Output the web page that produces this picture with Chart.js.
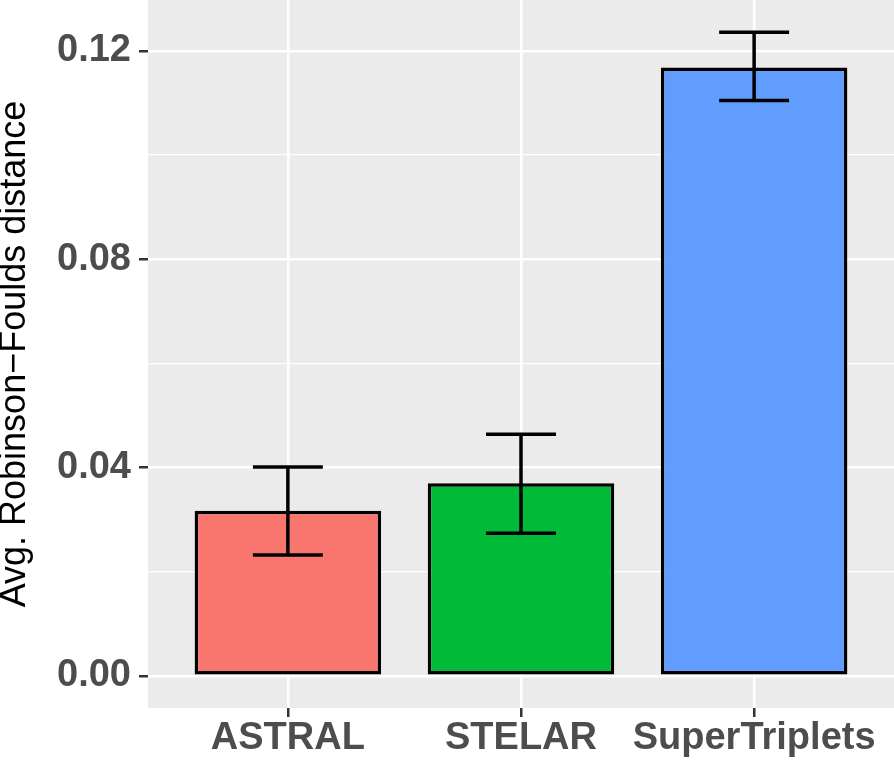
<!DOCTYPE html>
<html>
<head>
<meta charset="utf-8">
<script src="https://cdn.jsdelivr.net/npm/chart.js@4/dist/chart.umd.min.js"></script>
<style>
  html, body { margin: 0; padding: 0; background: #ffffff; }
  #wrap { width: 894px; height: 761px; position: relative; }
</style>
</head>
<body>
<div id="wrap"><canvas id="c"></canvas></div>
<script>
// ---- data ----
const categories = ["ASTRAL", "STELAR", "SuperTriplets"];
const meanRF = [0.0317, 0.0370, 0.1168];
const errLow = [0.0232, 0.0274, 0.1105];
const errHigh = [0.0401, 0.0464, 0.1236];
const barColors = ["#F8766D", "#00BA38", "#619CFF"];
const yTicks = [0, 0.02, 0.04, 0.06, 0.08, 0.10, 0.12];
const yMajorTicks = [0, 0.04, 0.08, 0.12];
const yTitle = "Avg. Robinson\u2212Foulds distance";

const isMajor = v => yMajorTicks.some(m => Math.abs(m - v) < 1e-9);
const yMax = Math.max(...errHigh);
const yPad = yMax * 0.05;

const panelBg = {
  id: 'panelBg',
  beforeDraw(chart) {
    const a = chart.chartArea, ctx = chart.ctx;
    ctx.save();
    ctx.fillStyle = '#EBEBEB';
    ctx.fillRect(a.left, a.top, a.right - a.left, a.bottom - a.top);
    ctx.restore();
  }
};

const errorBars = {
  id: 'errorBars',
  afterDatasetsDraw(chart) {
    const xs = chart.scales.x, ys = chart.scales.y, ctx = chart.ctx;
    ctx.save();
    ctx.strokeStyle = '#000000';
    ctx.lineWidth = 3.5;
    ctx.lineCap = 'butt';
    categories.forEach((c, i) => {
      const xc = xs.getPixelForValue(i + 1);
      const hw = xs.getPixelForValue(i + 1.15) - xc;
      const yl = ys.getPixelForValue(errLow[i]);
      const yh = ys.getPixelForValue(errHigh[i]);
      ctx.beginPath();
      ctx.moveTo(xc, yl); ctx.lineTo(xc, yh);
      ctx.moveTo(xc - hw, yh); ctx.lineTo(xc + hw, yh);
      ctx.moveTo(xc - hw, yl); ctx.lineTo(xc + hw, yl);
      ctx.stroke();
    });
    ctx.restore();
  }
};

new Chart(document.getElementById('c'), {
  type: 'bar',
  data: {
    datasets: [{
      data: categories.map((c, i) => ({ x: i + 1, y: meanRF[i] })),
      backgroundColor: barColors,
      borderColor: '#000000',
      borderWidth: 3.5,
      borderSkipped: false,
      barPercentage: 0.8,
      categoryPercentage: 1.0
    }]
  },
  plugins: [panelBg, errorBars],
  options: {
    responsive: true,
    maintainAspectRatio: false,
    animation: false,
    devicePixelRatio: 1,
    layout: { padding: 0 },
    plugins: { legend: { display: false }, tooltip: { enabled: false } },
    scales: {
      x: {
        type: 'linear',
        min: 0.4,
        max: 3.6,
        offset: false,
        afterBuildTicks(scale) { scale.ticks = categories.map((c, i) => ({ value: i + 1 })); },
        afterFit(scale) {
          scale.height = 53;
          scale.paddingLeft = 0; scale.paddingRight = 0;
        },
        border: { display: false },
        grid: {
          offset: false,
          color: '#FFFFFF',
          lineWidth: 2.5,
          tickColor: '#333333',
          tickWidth: 2.5,
          tickLength: 9
        },
        ticks: {
          autoSkip: false,
          maxRotation: 0,
          padding: 3,
          color: '#4D4D4D',
          font: { family: '"Liberation Sans", Arial, sans-serif', size: 38, weight: 'bold', lineHeight: 1 },
          callback: (v) => categories[Math.round(v) - 1]
        }
      },
      y: {
        min: -yPad,
        max: yMax + yPad,
        afterBuildTicks(scale) { scale.ticks = yTicks.map(v => ({ value: v })); },
        afterFit(scale) {
          scale.width = 148;
          scale.paddingTop = 0; scale.paddingBottom = 0;
        },
        border: { display: false },
        grid: {
          offset: false,
          color: '#FFFFFF',
          lineWidth: ctx => isMajor(ctx.tick.value) ? 2.5 : 1.3,
          tickColor: ctx => isMajor(ctx.tick.value) ? '#333333' : 'rgba(0,0,0,0)',
          tickWidth: ctx => isMajor(ctx.tick.value) ? 2.5 : 0,
          tickLength: 9
        },
        ticks: {
          padding: 8,
          color: '#4D4D4D',
          font: { family: '"Liberation Sans", Arial, sans-serif', size: 38, weight: 'bold', lineHeight: 1 },
          callback: (v) => isMajor(v) ? v.toFixed(2) : ''
        },
        title: {
          display: true,
          text: yTitle,
          color: '#000000',
          padding: 0,
          font: { family: '"Liberation Sans", Arial, sans-serif', size: 36, weight: 'normal', lineHeight: 0.85 }
        }
      }
    }
  }
});
</script>
</body>
</html>
